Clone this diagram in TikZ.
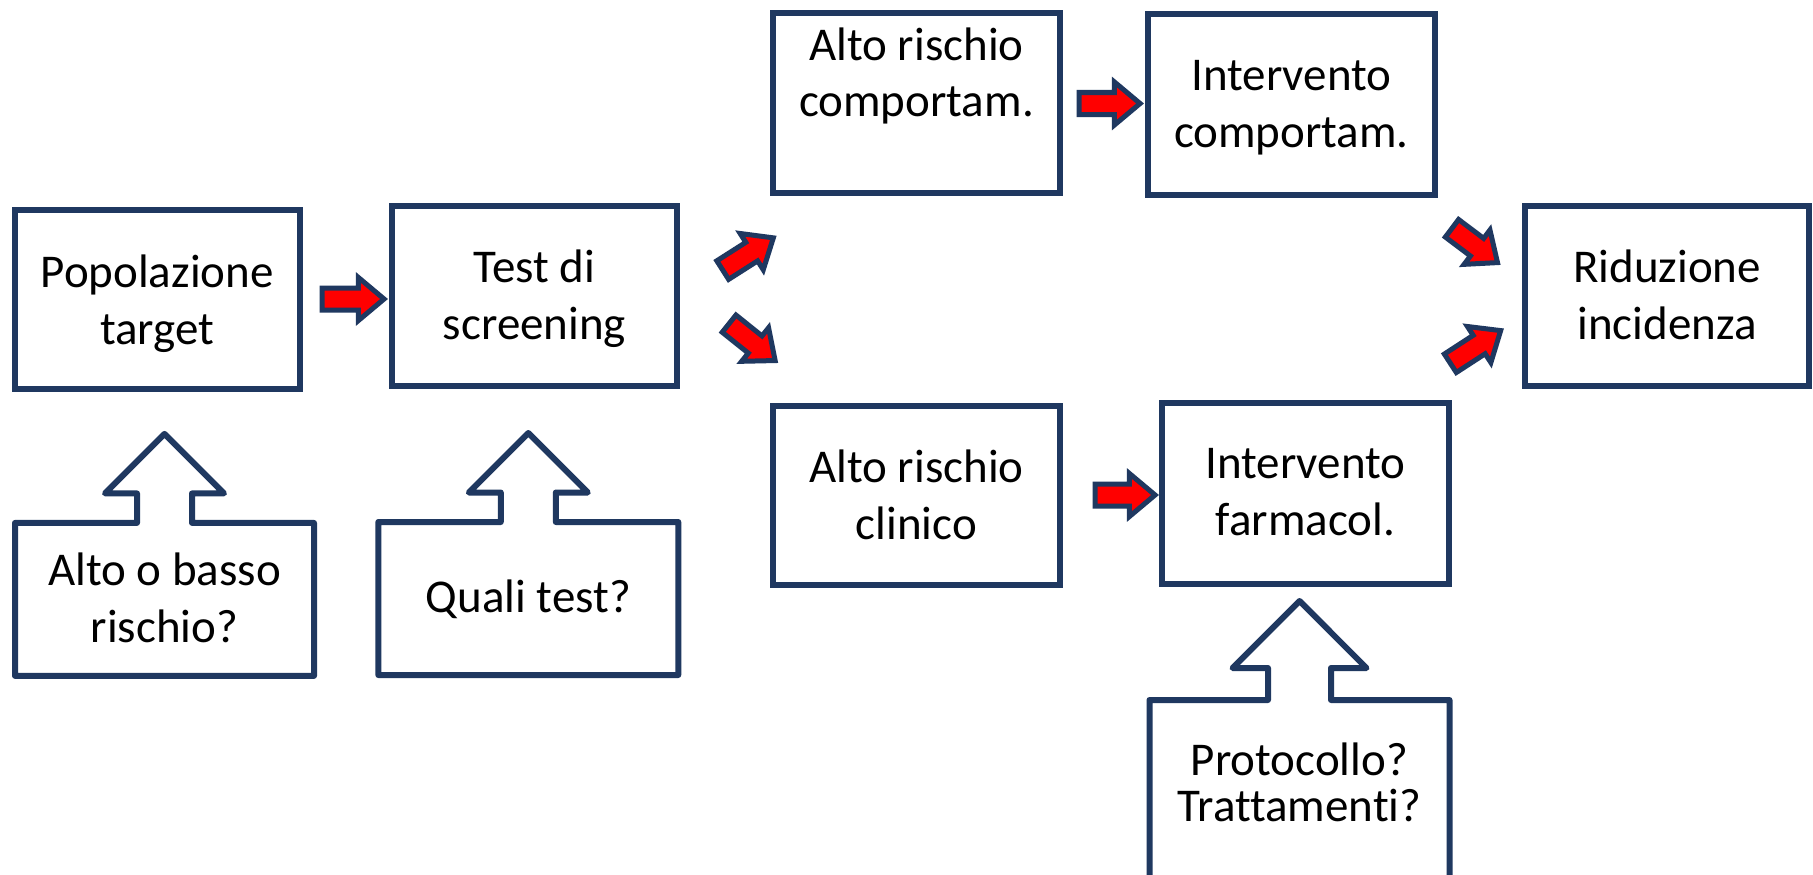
\documentclass[tikz,border=0pt]{standalone}
\usepackage{fontspec}
\setmainfont{Carlito}[Ligatures=NoCommon]
\usetikzlibrary{shapes.arrows}
\definecolor{navy}{RGB}{31,56,96}
\definecolor{arrowred}{RGB}{255,0,0}
\begin{document}
\begin{tikzpicture}[x=1pt,y=-1pt,
  txt/.style={font=\fontsize{47}{57}\selectfont, align=center, text depth=0pt},
  box/.style={draw=navy, line width=6pt, fill=white, inner sep=0pt, txt},
  callout/.style={arrow box, draw=navy, line width=6pt, line join=round, fill=white,
    inner sep=0pt, txt, arrow box tip angle=90},
  blk/.style={single arrow, draw=navy, fill=arrowred, line width=5pt, inner xsep=0pt,
    inner ysep=8.5pt, single arrow head extend=10.5pt, single arrow tip angle=80,
    minimum height=60pt}
]
\clip (0,0) rectangle (1813,875);
\fill[white] (0,0) rectangle (1813,875);

% main flow boxes (text height places the last baseline relative to the centre)
\node[box, minimum width=285pt, minimum height=179pt, text height=89.6pt] (pop)  at (157.2,299.2) {Popolazione\\target};
\node[box, minimum width=285pt, minimum height=180pt, text height=87pt] (test) at (534.5,296.2) {Test di\\screening};
\node[box, minimum width=287pt, minimum height=180pt, text height=28pt] (arc)  at (916.5,103) {Alto rischio\\comportam.};
\node[box, minimum width=287pt, minimum height=181pt, text height=86.8pt] (ivc)  at (1291.4,104.3) {Intervento\\comportam.};
\node[box, minimum width=287pt, minimum height=179pt, text height=87.8pt] (arcl) at (916.5,495.8) {Alto rischio\\clinico};
\node[box, minimum width=287pt, minimum height=181pt, text height=83pt] (ivf)  at (1305.4,493.8) {Intervento\\farmacol.};
\node[box, minimum width=284pt, minimum height=180pt, text height=87pt] (rid)  at (1667,296.2) {Riduzione\\incidenza};

% question callouts pointing up at the boxes
\node[callout, minimum width=299pt, minimum height=153pt, text height=85.2pt,
  arrow box arrows={north:86pt}, arrow box shaft width=55pt, arrow box head extend=32pt]
  (q1) at (164.5,599.4) {Alto o basso\\rischio?};
\node[callout, minimum width=300pt, minimum height=153pt, text height=28.4pt,
  arrow box arrows={north:86pt}, arrow box shaft width=55pt, arrow box head extend=32pt]
  (q2) at (528.3,598.5) {Quali test?};
\node[callout, minimum width=300pt, minimum height=219pt,
  arrow box arrows={north:96pt}, arrow box shaft width=63pt, arrow box head extend=35.5pt]
  (q3) at (1299.5,809.5) {};
\node[font=\fontsize{47}{46}\selectfont, align=center, inner sep=0pt, text height=0pt, text depth=0pt]
  (q3t) at (1299.5,821) {Protocollo?\\Trattamenti?};

% red block arrows between the boxes
\node[blk, minimum height=62pt] (a1) at (346.5,299) {};
\node[blk, rotate=32.5] (a2) at (742.5,257.5) {};
\node[blk, rotate=-38.7, minimum height=59pt] (a3) at (747,338) {};
\node[blk, minimum height=61pt] (a4) at (1103,103.5) {};
\node[blk] (a5) at (1118.5,495) {};
\node[blk, rotate=-37, minimum height=57pt] (a6) at (1469.5,241.5) {};
\node[blk, rotate=33] (a7) at (1470,350.5) {};
\end{tikzpicture}
\end{document}
